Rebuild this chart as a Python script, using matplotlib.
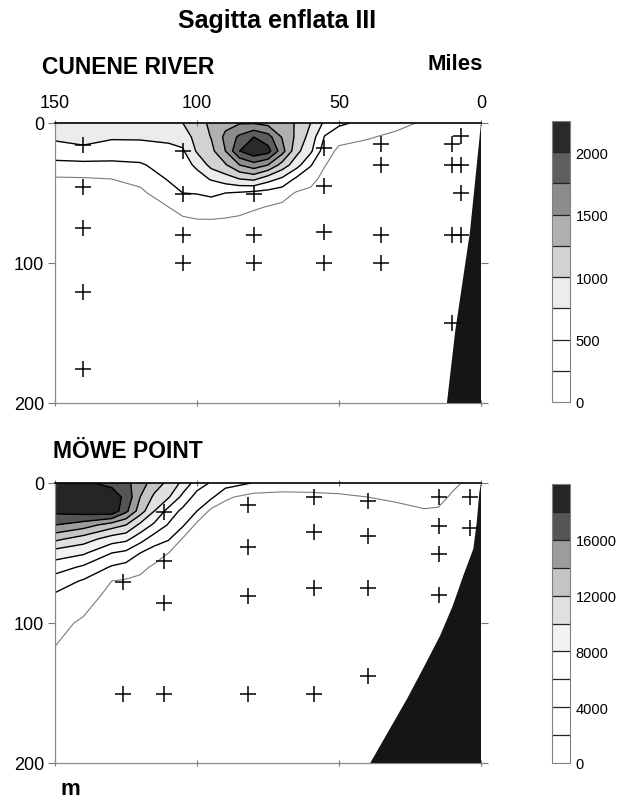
import numpy as np
import matplotlib
matplotlib.use('Agg')
import matplotlib.pyplot as plt

plt.rcParams['font.family'] = ['Liberation Sans', 'DejaVu Sans']

# depth levels of the gridded section (m)
depths = [0, 10, 20, 30, 40, 50, 60, 70, 80, 100, 150, 200]

# --- Cunene River section: distance offshore (miles) and abundance per column
cunene_miles = [150, 140, 130, 120, 110, 105, 100, 95, 90, 85, 80,
                75, 70, 65, 60, 55, 50, 40, 30, 20, 10, 0]
cunene_profiles = [
    [900, 800, 620, 440, 220, 120, 80, 50, 30, 10, 0, 0],
    [900, 820, 700, 430, 230, 130, 80, 50, 30, 10, 0, 0],
    [920, 780, 620, 450, 250, 150, 100, 60, 40, 15, 0, 0],
    [920, 780, 640, 470, 320, 200, 120, 70, 40, 15, 0, 0],
    [950, 790, 700, 610, 520, 400, 250, 170, 100, 30, 5, 0],
    [1000, 850, 720, 650, 580, 500, 350, 200, 120, 40, 5, 0],
    [1150, 1100, 1030, 800, 650, 510, 380, 230, 150, 50, 5, 0],
    [1300, 1260, 1180, 1080, 770, 540, 400, 230, 150, 50, 5, 0],
    [1420, 1560, 1500, 1220, 880, 500, 360, 220, 140, 50, 5, 0],
    [1480, 1800, 2000, 1500, 1000, 470, 330, 200, 120, 40, 5, 0],
    [1480, 2000, 2200, 1650, 1050, 430, 280, 160, 100, 30, 5, 0],
    [1420, 1850, 2100, 1500, 850, 400, 240, 140, 90, 30, 5, 0],
    [1300, 1480, 1600, 1150, 700, 350, 200, 120, 80, 25, 5, 0],
    [1240, 1200, 1080, 850, 450, 230, 140, 90, 60, 20, 5, 0],
    [1000, 900, 800, 520, 320, 200, 120, 80, 50, 15, 0, 0],
    [700, 480, 360, 260, 180, 120, 80, 50, 30, 10, 0, 0],
    [550, 330, 200, 140, 100, 70, 50, 30, 20, 5, 0, 0],
    [420, 270, 160, 110, 80, 60, 40, 30, 20, 5, 0, 0],
    [320, 200, 120, 80, 50, 40, 30, 20, 10, 5, 0, 0],
    [220, 150, 100, 70, 50, 40, 30, 20, 10, 5, 0, 0],
    [180, 120, 80, 50, 40, 30, 20, 10, 10, 5, 0, 0],
    [150, 100, 60, 40, 30, 20, 10, 10, 5, 0, 0, 0],
]
cunene_levels = [0, 250, 500, 750, 1000, 1250, 1500, 1750, 2000, 2250]
cunene_ticks = [0, 500, 1000, 1500, 2000]
cunene_st_x = [140, 140, 140, 140, 140, 105, 105, 105, 105, 80, 80, 80,
               55.3, 55.3, 55.3, 55.3, 35.3, 35.3, 35.3, 35.3,
               10.2, 10.2, 10.2, 10.2, 7.1, 7.1, 7.1, 7.1]
cunene_st_d = [16, 46, 75, 121, 176, 20, 51, 80, 100, 51, 80, 100,
               18, 45, 78, 100, 15, 30, 80, 100,
               15, 30, 80, 143, 9, 30, 50, 80]
cunene_bottom_x = [0, 3.9, 9.1, 12, 0]
cunene_bottom_d = [0, 78, 149, 200, 200]

# --- Möwe Point section
mowe_miles = [150, 140, 130, 125, 120, 115, 110, 105, 100, 95, 90, 80,
              70, 60, 50, 40, 30, 20, 15, 10, 5, 0]
mowe_profiles = [
    [18200, 18600, 18500, 16000, 12500, 9000, 7000, 5000, 3800, 2600, 800, 300],
    [18300, 18800, 19000, 15000, 11000, 8300, 5700, 3800, 3000, 1700, 600, 200],
    [17500, 19000, 19500, 13000, 9000, 6000, 3800, 2000, 1400, 700, 300, 100],
    [16500, 17500, 16500, 12000, 8500, 5500, 3300, 1800, 1200, 600, 200, 100],
    [15000, 14000, 13000, 9500, 6800, 4000, 2500, 1600, 1100, 500, 200, 100],
    [13000, 11600, 10000, 7600, 5000, 3000, 1700, 1100, 800, 400, 150, 80],
    [11500, 10200, 7200, 5800, 4200, 2000, 1300, 900, 600, 300, 100, 50],
    [9500, 7400, 5500, 4300, 1800, 1200, 900, 600, 400, 200, 80, 40],
    [7000, 5200, 4000, 1500, 1000, 700, 500, 350, 250, 150, 60, 30],
    [5800, 4400, 1500, 900, 600, 450, 350, 250, 200, 100, 40, 20],
    [5000, 2300, 1200, 700, 500, 350, 250, 200, 150, 100, 40, 20],
    [3900, 1300, 1000, 600, 400, 300, 200, 150, 100, 60, 30, 10],
    [3200, 1300, 900, 600, 400, 300, 200, 150, 100, 60, 30, 10],
    [3000, 1500, 900, 600, 400, 300, 200, 150, 100, 60, 30, 10],
    [3000, 1700, 1000, 600, 400, 300, 200, 150, 100, 60, 30, 10],
    [3000, 2000, 1100, 700, 400, 300, 200, 150, 100, 60, 30, 10],
    [3000, 2300, 1500, 900, 500, 300, 200, 150, 100, 60, 30, 10],
    [2900, 2500, 1900, 1200, 700, 400, 250, 150, 100, 60, 30, 10],
    [2800, 2400, 1850, 1200, 700, 400, 250, 150, 100, 60, 30, 10],
    [2300, 1800, 1400, 1000, 600, 400, 250, 150, 100, 60, 30, 10],
    [1800, 1500, 1200, 900, 600, 400, 250, 150, 100, 60, 30, 10],
    [1500, 1200, 1000, 800, 500, 300, 200, 150, 100, 60, 30, 10],
]
mowe_levels = [0, 2000, 4000, 6000, 8000, 10000, 12000, 14000, 16000, 18000, 20000]
mowe_ticks = [0, 4000, 8000, 12000, 16000]
mowe_st_x = [126, 126, 111.6, 111.6, 111.6, 111.6, 82, 82, 82, 82,
             58.8, 58.8, 58.8, 58.8, 39.7, 39.7, 39.7, 39.7,
             14.7, 14.7, 14.7, 14.7, 3.9, 3.9]
mowe_st_d = [70.5, 150.7, 21, 56, 86, 150.7, 15.7, 45.5, 80.5, 150.7,
             10.2, 35.2, 75.2, 150.7, 12.6, 37.6, 75.2, 138,
             10.2, 30.5, 50.7, 80, 10.2, 32.4]
mowe_bottom_x = [0, 0.6, 1.5, 2.7, 6.2, 10, 14.4, 20, 26, 32.5, 39, 0]
mowe_bottom_d = [0, 7, 28, 47, 66, 88, 109, 131, 154, 177, 200, 200]

cunene_fills = ['white', 'white', 'white', '#ececec', '#d2d2d2', '#b0b0b0',
                '#8c8c8c', '#5e5e5e', '#2a2a2a']
mowe_fills = ['white', 'white', 'white', 'white', '#f2f2f2', '#e0e0e0',
              '#c4c4c4', '#9c9c9c', '#555555', '#252525']

W, H = 619, 804
fig = plt.figure(figsize=(W / 100, H / 100), dpi=100)


def box(l, t, r, b):
    return [l / W, 1 - b / H, (r - l) / W, (b - t) / H]


def section(ax, cax, miles, profiles, levels, fills, st_x, st_d,
            bot_x, bot_d, ticks, top_labels):
    Z = np.array(profiles).T
    cf = ax.contourf(miles, depths, Z, levels=levels, colors=fills, zorder=1)
    line_cols = ['#7a7a7a'] + ['black'] * (len(levels) - 3)
    line_w = [0.8] + [1.0] * (len(levels) - 3)
    ax.contour(miles, depths, Z, levels=levels[1:-1], colors=line_cols,
               linewidths=line_w, zorder=2)
    ax.fill(bot_x, bot_d, color='#151515', lw=0, zorder=3)
    ax.plot(st_x, st_d, '+', color='black', ms=11, mew=1.1, zorder=4)
    ax.set_xlim(150, 0)
    ax.set_ylim(200, 0)
    ax.set_xticks([150, 100, 50, 0])
    ax.set_yticks([0, 100, 200])
    ax.tick_params(axis='both', colors='#777777', labelcolor='black',
                   labelsize=13, length=5, width=0.8)
    ax.tick_params(axis='x', top=True, bottom=True, labeltop=top_labels,
                   labelbottom=False, direction='inout', pad=6)
    ax.tick_params(axis='y', left=True, right=True, pad=3)
    for s in ['left', 'bottom']:
        ax.spines[s].set_color('#8a8a8a')
        ax.spines[s].set_linewidth(0.9)
    ax.spines['top'].set_color('black')
    ax.spines['top'].set_linewidth(1.2)
    ax.spines['right'].set_visible(False)

    cb = fig.colorbar(cf, cax=cax, drawedges=True, ticks=ticks)
    cb.outline.set_edgecolor('#808080')
    cb.outline.set_linewidth(0.8)
    cb.dividers.set_color('#222222')
    cb.dividers.set_linewidth(0.9)
    cax.tick_params(length=0, labelsize=10.5, pad=4)
    return cf


ax1 = fig.add_axes(box(55, 124, 481, 404))
cax1 = fig.add_axes(box(552, 122, 570, 403))
ax2 = fig.add_axes(box(55, 484, 481, 764))
cax2 = fig.add_axes(box(552, 485, 570, 764))

section(ax1, cax1, cunene_miles, cunene_profiles, cunene_levels, cunene_fills,
        cunene_st_x, cunene_st_d, cunene_bottom_x, cunene_bottom_d,
        cunene_ticks, True)
section(ax2, cax2, mowe_miles, mowe_profiles, mowe_levels, mowe_fills,
        mowe_st_x, mowe_st_d, mowe_bottom_x, mowe_bottom_d,
        mowe_ticks, False)

fig.text(277 / W, 1 - 21 / H, 'Sagitta enflata III', ha='center', va='center',
         fontsize=18, fontweight='bold')
fig.text(42 / W, 1 - 68 / H, 'CUNENE RIVER', ha='left', va='center',
         fontsize=16.5, fontweight='bold')
fig.text(483 / W, 1 - 65 / H, 'Miles', ha='right', va='center',
         fontsize=16, fontweight='bold')
fig.text(53 / W, 1 - 452 / H, 'MÖWE POINT', ha='left', va='center',
         fontsize=16.5, fontweight='bold')
fig.text(60 / W, 1 - 790 / H, 'm', ha='left', va='center',
         fontsize=16, fontweight='bold')

fig.savefig('out.png', dpi=100, facecolor='white')
